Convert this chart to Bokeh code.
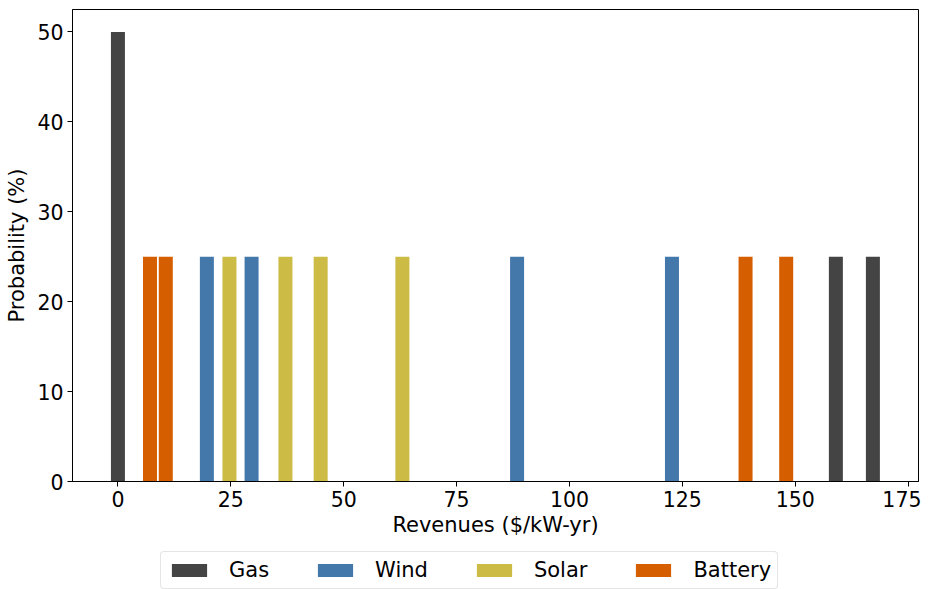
from bokeh.plotting import figure
from bokeh.layouts import column
from bokeh.models import Range1d, Legend, LegendItem, FixedTicker, ColumnDataSource
from bokeh.embed import file_html
from bokeh.resources import INLINE

# ---- data ----
gas_x = [0.0, 159.0, 167.2]
gas_p = [50, 25, 25]
wind_x = [19.7, 29.6, 88.4, 122.7]
wind_p = [25, 25, 25, 25]
solar_x = [24.7, 37.1, 44.9, 63.0]
solar_p = [25, 25, 25, 25]
battery_x = [7.1, 10.6, 139.0, 148.0]
battery_p = [25, 25, 25, 25]

series_names = ["Gas", "Wind", "Solar", "Battery"]
series_colors = ["#444444", "#4477AA", "#CCBB44", "#D55E00"]
x_ticks = [0, 25, 50, 75, 100, 125, 150, 175]
y_ticks = [0, 10, 20, 30, 40, 50]
bar_width = 3.1

FONT = "DejaVu Sans"

p = figure(
    width=921, height=545,
    output_backend="svg", toolbar_location=None,
    x_range=Range1d(-10.06, 177.3), y_range=Range1d(0, 52.5),
    min_border_left=72, min_border_right=3, min_border_top=9, min_border_bottom=64,
)

p.background_fill_color = "white"
p.border_fill_color = "white"
p.outline_line_color = "black"
p.outline_line_width = 1
p.xgrid.visible = False
p.ygrid.visible = False

data = [(gas_x, gas_p), (wind_x, wind_p), (solar_x, solar_p), (battery_x, battery_p)]
for (xs, ps), name, col in zip(data, series_names, series_colors):
    src = ColumnDataSource(dict(x=xs, top=ps))
    p.vbar(x="x", top="top", bottom=0, width=bar_width, source=src,
           fill_color=col, line_color=None)

for ax in (p.xaxis[0], p.yaxis[0]):
    ax.axis_line_color = "black"
    ax.major_tick_line_color = "black"
    ax.major_tick_out = 5
    ax.major_tick_in = 0
    ax.minor_tick_line_color = None
    ax.major_label_text_font = FONT
    ax.major_label_text_font_size = "20.5px"
    ax.major_label_text_color = "black"
    ax.axis_label_text_font = FONT
    ax.axis_label_text_font_size = "21px"
    ax.axis_label_text_font_style = "normal"
    ax.axis_label_text_color = "black"

p.xaxis[0].ticker = FixedTicker(ticks=x_ticks)
p.yaxis[0].ticker = FixedTicker(ticks=y_ticks)
p.xaxis[0].axis_label = "Revenues ($/kW-yr)"
p.yaxis[0].axis_label = "Probability (%)"
p.xaxis[0].major_label_standoff = 4
p.xaxis[0].axis_label_standoff = 3
p.yaxis[0].major_label_standoff = 4
p.yaxis[0].axis_label_standoff = 5

# ---- legend strip below the chart ----
lf = figure(
    width=921, height=44,
    output_backend="svg", toolbar_location=None,
    x_range=Range1d(0, 1), y_range=Range1d(0, 1),
    x_axis_location=None, y_axis_location=None,
    min_border_left=0, min_border_right=0, min_border_top=0, min_border_bottom=0,
)
lf.outline_line_color = None
lf.xgrid.visible = False
lf.ygrid.visible = False

items = []
for name, col in zip(series_names, series_colors):
    # zero-height placeholder bars: they only supply the legend swatches
    r = lf.vbar(x=[0.5], top=[0], bottom=0, width=0.01, fill_color=col, line_color=None)
    items.append(LegendItem(label=name, renderers=[r]))

legend = Legend(items=items, orientation="horizontal", location=(88, 0))
legend.label_text_font = FONT
legend.label_text_font_size = "21px"
legend.label_text_color = "black"
legend.glyph_width = 44
legend.glyph_height = 16
legend.label_standoff = 18
legend.spacing = 44
legend.padding = 6
legend.margin = 0
legend.border_line_color = "#cccccc"
legend.border_line_width = 1
legend.border_radius = 4
legend.background_fill_color = "white"
lf.add_layout(legend, "center")

layout = column(p, lf, spacing=0)
open("out.html", "w").write(file_html(layout, INLINE))
